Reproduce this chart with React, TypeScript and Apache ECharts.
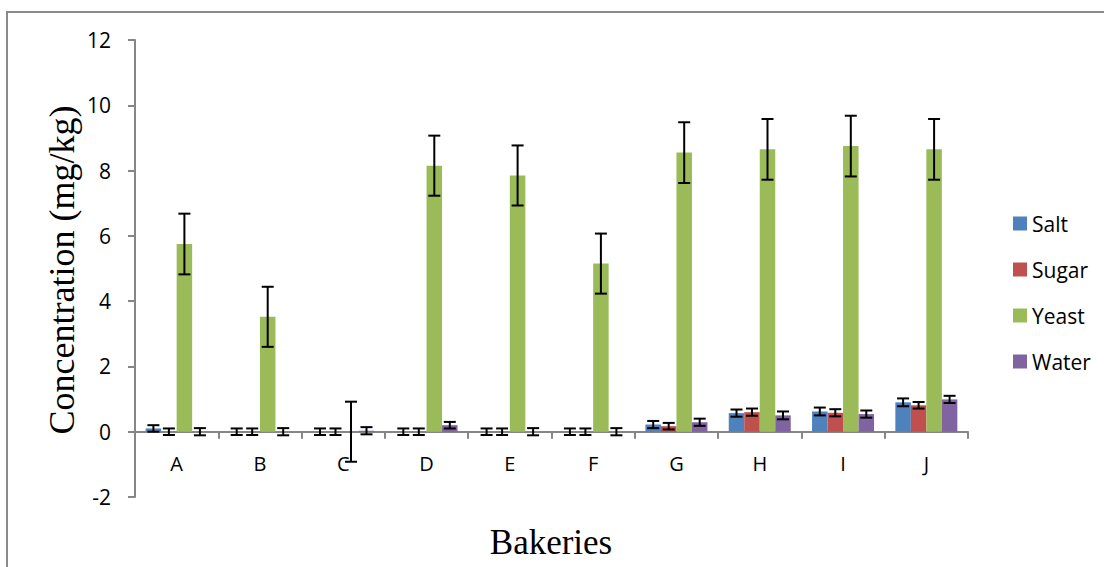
import React, { useEffect, useRef } from "react";
import * as echarts from "echarts";

const categories = ["A", "B", "C", "D", "E", "F", "G", "H", "I", "J"];
const seriesNames = ["Salt", "Sugar", "Yeast", "Water"];
const yTicks = { min: -2, max: 12, interval: 2 };

const salt = [0.1, 0, 0, 0, 0, 0, 0.22, 0.57, 0.62, 0.9];
const sugar = [0, 0, 0, 0, 0, 0, 0.17, 0.6, 0.58, 0.81];
const yeast = [5.75, 3.52, 0, 8.15, 7.85, 5.15, 8.55, 8.65, 8.75, 8.65];
const water = [0, 0, 0.03, 0.2, 0, 0, 0.29, 0.5, 0.54, 0.99];

const saltErr = [0.1, 0.1, 0.1, 0.1, 0.1, 0.1, 0.11, 0.11, 0.12, 0.12];
const sugarErr = [0.1, 0.1, 0.1, 0.1, 0.1, 0.1, 0.1, 0.11, 0.11, 0.1];
const yeastErr = [0.93, 0.92, 0.92, 0.92, 0.92, 0.92, 0.93, 0.93, 0.93, 0.93];
const waterErr = [0.11, 0.11, 0.11, 0.1, 0.11, 0.11, 0.11, 0.12, 0.11, 0.11];

const colors = ["#4F81BD", "#C0504D", "#9BBB59", "#8064A2"];

export default function App() {
  const ref = useRef<HTMLDivElement>(null);

  useEffect(() => {
    document.body.style.margin = "0";
    if (!ref.current) return;
    const chart = echarts.init(ref.current, null, { renderer: "svg" });

    const values = [salt, sugar, yeast, water];
    const errs = [saltErr, sugarErr, yeastErr, waterErr];
    const barW = 15.5;
    const offsets = [-1.5, -0.5, 0.5, 1.5].map((k) => k * barW);

    const gridTop = 40;
    const gridBottom = 70;
    const plotH = 567 - gridTop - gridBottom;
    const zeroOffset = (plotH * (0 - yTicks.min)) / (yTicks.max - yTicks.min);

    const barSeries = seriesNames.map((name, s) => ({
      name,
      type: "bar",
      data: values[s],
      barWidth: barW,
      barGap: "0%",
      itemStyle: { color: colors[s] },
      z: 2,
    }));

    const errSeries = seriesNames.map((name, s) => ({
      name: name + " err",
      type: "custom",
      z: 5,
      silent: true,
      data: categories.map((_, i) => [i, values[s][i], errs[s][i]]),
      encode: { x: 0, y: 1 },
      renderItem: (params: any, api: any) => {
        const idx = api.value(0);
        const v = api.value(1);
        const e = api.value(2);
        const c = api.coord([idx, v]);
        const top = api.coord([idx, v + e])[1];
        const bot = api.coord([idx, v - e])[1];
        const x = c[0] + offsets[s];
        const hw = 6;
        const st = { stroke: "#000", lineWidth: 2 };
        return {
          type: "group",
          children: [
            { type: "line", shape: { x1: x, y1: top, x2: x, y2: bot }, style: st },
            { type: "line", shape: { x1: x - hw, y1: top, x2: x + hw, y2: top }, style: st },
            { type: "line", shape: { x1: x - hw, y1: bot, x2: x + hw, y2: bot }, style: st },
          ],
        };
      },
    }));

    chart.setOption({
      animation: false,
      grid: { left: 135, right: 136, top: gridTop, bottom: gridBottom, containLabel: false },
      legend: {
        data: seriesNames,
        orient: "vertical",
        left: 1008,
        top: 208,
        itemWidth: 14,
        itemHeight: 14,
        itemGap: 25,
        icon: "rect",
        textStyle: { fontFamily: "Open Sans", fontSize: 21, color: "#000" },
      },
      xAxis: {
        type: "category",
        data: categories,
        offset: -zeroOffset,
        axisLine: { onZero: false, lineStyle: { color: "#868686", width: 2 } },
        axisTick: { show: true, length: 7, lineStyle: { color: "#868686", width: 2 } },
        axisLabel: { fontFamily: "Open Sans", fontSize: 20, color: "#000", margin: 22 },
      },
      yAxis: {
        type: "value",
        min: yTicks.min,
        max: yTicks.max,
        interval: yTicks.interval,
        splitLine: { show: false },
        axisLine: { show: true, lineStyle: { color: "#868686", width: 2 } },
        axisTick: { show: true, length: 7, lineStyle: { color: "#868686", width: 2 } },
        axisLabel: { fontFamily: "Open Sans", fontSize: 21, color: "#000", margin: 24 },
      },
      graphic: [
        {
          type: "rect",
          shape: { x: 7, y: 12, width: 1200, height: 700 },
          style: { fill: "none", stroke: "#8a8a8a", lineWidth: 2 },
          silent: true,
        },
        {
          type: "text",
          x: 62,
          y: 270,
          rotation: Math.PI / 2,
          style: {
            text: "Concentration (mg/kg)",
            fontFamily: "Liberation Serif",
            fontSize: 36,
            fill: "#000",
            textAlign: "center",
            textVerticalAlign: "middle",
          },
        },
        {
          type: "text",
          x: 551,
          y: 542,
          style: {
            text: "Bakeries",
            fontFamily: "Liberation Serif",
            fontSize: 35,
            fill: "#000",
            textAlign: "center",
            textVerticalAlign: "middle",
          },
        },
      ],
      series: [...barSeries, ...errSeries],
    });

    return () => chart.dispose();
  }, []);

  return <div ref={ref} style={{ width: 1104, height: 567 }} />;
}
